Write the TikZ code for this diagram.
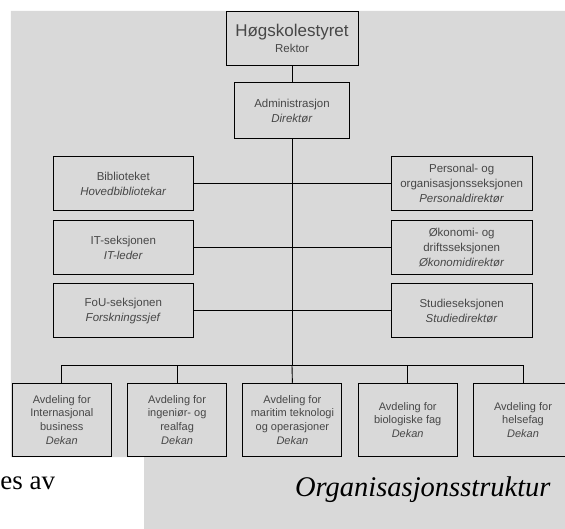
\documentclass[tikz,border=0pt]{standalone}
\usepackage{fontspec}
\setmainfont{Liberation Serif}
\setsansfont{Liberation Sans}
\definecolor{bggray}{HTML}{D9D9D9}
\definecolor{txtgray}{HTML}{474747}
\begin{document}
\begin{tikzpicture}[x=1pt, y=-1pt, line width=0.9pt,
  every node/.style={draw, fill=bggray, text=txtgray, align=center, inner sep=0pt,
    font=\sffamily\fontsize{11.5}{15}\selectfont},
  sidebox/.style={minimum width=140.5pt, minimum height=54pt},
  unitbox/.style={minimum width=99pt, minimum height=73pt, font=\sffamily\fontsize{11}{13.6}\selectfont},
  plain/.style={draw=none, fill=none, text=black, inner sep=0pt}]

\clip (0,0) rectangle (565,529);
\fill[bggray] (10.8,11) -- (565,11) -- (565,529) -- (144,529) -- (144,457) -- (10.8,457) -- cycle;

% top
\node[minimum width=132pt, minimum height=53.5pt] (hs) at (292,38.4)
  {{\fontsize{17}{19}\selectfont Høgskolestyret}\\[2pt]Rektor};
\node[minimum width=114.5pt, minimum height=55.6pt] (adm) at (292,110.5)
  {Administrasjon\\\textit{Direktør}};

% staff
\node[sidebox] (bib) at (123.3,183.8) {Biblioteket\\\textit{Hovedbibliotekar}};
\node[sidebox] (pers) at (461.7,183.8) {Personal- og\\organisasjonsseksjonen\\\textit{Personaldirektør}};
\node[sidebox] (it) at (123.3,247.5) {IT-seksjonen\\\textit{IT-leder}};
\node[sidebox] (okon) at (461.7,247.5) {Økonomi- og\\driftsseksjonen\\\textit{Økonomidirektør}};
\node[sidebox] (fou) at (123.3,310.8) {FoU-seksjonen\\\textit{Forskningssjef}};
\node[sidebox] (stud) at (461.7,310.8) {Studieseksjonen\\\textit{Studiedirektør}};

% departments
\foreach \name/\txt [count=\i] in {d1/{Avdeling for\\Internasjonal\\business},
    d2/{Avdeling for\\ingeniør- og\\realfag},
    d3/{Avdeling for\\maritim teknologi\\og operasjoner},
    d4/{Avdeling for\\biologiske fag},
    d5/{Avdeling for\\helsefag}}
  \node[unitbox] (\name) at ({61.8+115.3*(\i-1)},419.7) {\txt\\\textit{Dekan}};

\coordinate (bus) at (292,365.5);

\draw (hs) -- (adm);
\draw (adm) -- (bus);
\draw (bib) -- (pers);
\draw (it) -- (okon);
\draw (fou) -- (stud);
\draw (d1.north) |- (bus) -| (d5.north);
\draw (bus) -- (d3.north);
\foreach \name in {d2,d4}
  \draw (\name.north) -- (\name.north |- bus);

\node[plain, anchor=base west, font=\fontsize{27}{30}\selectfont] (frag) at (0,489) {es av};
\node[plain, anchor=base east, font=\itshape\fontsize{28.5}{32}\selectfont] (caption) at (551,496) {Organisasjonsstruktur};

\end{tikzpicture}
\end{document}
